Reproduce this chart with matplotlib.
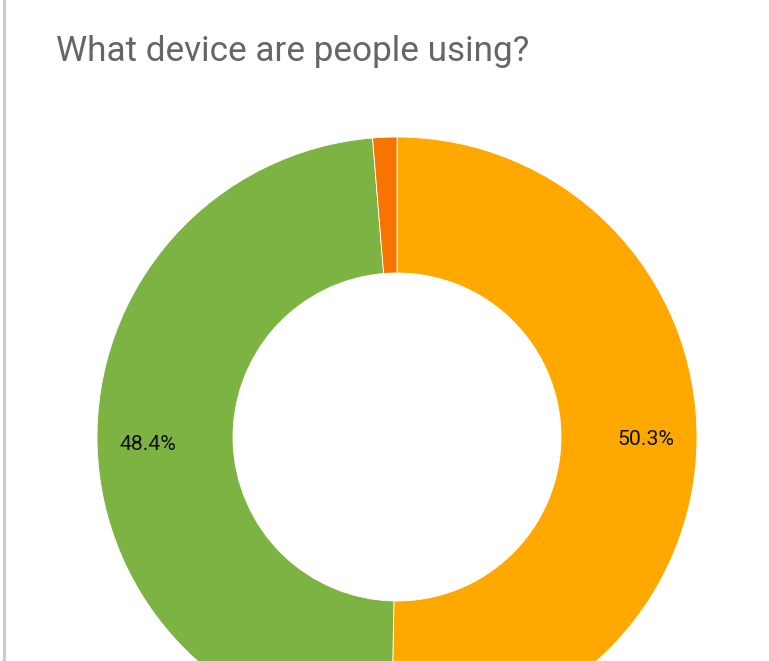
import matplotlib
matplotlib.use("Agg")
import matplotlib.pyplot as plt
from matplotlib.lines import Line2D

# device share (clockwise from 12 o'clock)
devices = ["Mobile", "Desktop", "Tablet"]
shares = [50.3, 48.4, 1.3]
colors = ["#ffa900", "#7cb342", "#f77400"]

W, H = 769, 661
fig = plt.figure(figsize=(W / 100, H / 100), dpi=100)
fig.patch.set_facecolor("white")

# donut centre at (397, 437) px, outer radius 300 px, inner 164 px
cx, cy, r = 397, 437, 300
ax = fig.add_axes([(cx - r) / W, 1 - (cy + r) / H, 2 * r / W, 2 * r / H])

def pct_label(p):
    return f"{p:.1f}%" if p >= 5 else ""

wedges, texts, autotexts = ax.pie(
    shares, colors=colors, startangle=90, counterclock=False, radius=1,
    wedgeprops=dict(width=(300 - 164) / 300, edgecolor="white", linewidth=0.6),
    autopct=pct_label, pctdistance=0.83,
    textprops=dict(fontsize=15.3, family=["Roboto", "DejaVu Sans"], color="#111111"),
)
# pie() resets the limits to +-1.25, put them back
ax.set_xlim(-1, 1)
ax.set_ylim(-1, 1)
ax.set_aspect("equal")
ax.axis("off")

fig.text(56 / W, 1 - 61 / H, "What device are people using?", fontsize=25.3,
         family=["Roboto", "DejaVu Sans"], color="#666666", ha="left", va="baseline")

# left page border
fig.add_artist(Line2D([3.5 / W, 3.5 / W], [0, 1], color="#cccccc", linewidth=2.2,
                      transform=fig.transFigure))

fig.savefig("out.png", dpi=100, facecolor="white")
